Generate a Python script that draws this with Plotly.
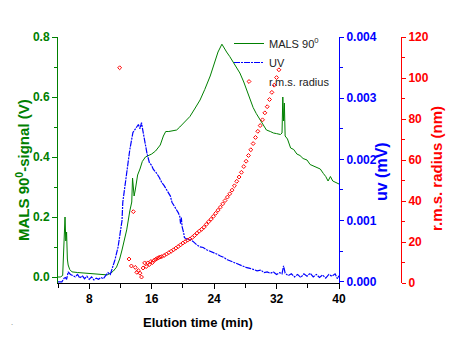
import plotly.graph_objects as go

# ---- data ----
mals_t = [4.0, 4.3, 4.6, 4.7, 4.8, 4.9, 5.0, 5.1, 5.2, 5.3, 5.5, 5.8, 6.5, 7.5, 8.5, 9.5, 10.3, 10.7,
          11.1, 11.5, 11.9, 12.2, 12.5, 12.8, 13.2, 13.45, 13.55, 13.65, 13.75, 13.9, 14.2, 14.5, 14.8,
          15.2, 15.6, 16.0, 16.5, 17.1, 17.5, 17.8, 18.2, 18.7, 19.2, 19.6, 20.2, 20.9, 21.5, 22.2,
          22.8, 23.5, 24.0, 24.5, 25.0, 25.3, 25.6, 26.0, 26.5, 27.0, 27.3, 27.8, 28.2, 28.6, 29.0,
          29.4, 29.9, 30.3, 30.7, 31.2, 31.6, 32.0, 32.5, 32.7, 32.8, 32.9, 33.0, 33.1, 33.4, 33.8,
          34.2, 34.6, 35.0, 35.4, 35.9, 36.3, 36.8, 37.2, 37.6, 38.0, 38.3, 38.6, 38.9, 39.2, 39.6, 40.0]
mals_v = [0.0, 0.0, 0.005, 0.08, 0.17, 0.2, 0.12, 0.15, 0.06, 0.04, 0.025, 0.017, 0.015, 0.013, 0.011,
          0.008, 0.007, 0.012, 0.02, 0.033, 0.06, 0.09, 0.12, 0.157, 0.22, 0.25, 0.33, 0.28, 0.27, 0.29,
          0.34, 0.36, 0.385, 0.40, 0.405, 0.41, 0.42, 0.44, 0.47, 0.485, 0.485, 0.487, 0.49, 0.50,
          0.515, 0.535, 0.56, 0.59, 0.625, 0.67, 0.71, 0.75, 0.776, 0.765, 0.75, 0.735, 0.715, 0.695,
          0.68, 0.65, 0.62, 0.59, 0.565, 0.545, 0.525, 0.505, 0.49, 0.485, 0.48, 0.478, 0.475, 0.48,
          0.60, 0.52, 0.58, 0.47, 0.46, 0.43, 0.425, 0.41, 0.405, 0.395, 0.39, 0.375, 0.37, 0.365,
          0.36, 0.345, 0.335, 0.32, 0.335, 0.32, 0.315, 0.31]

uv_t = [4.0, 4.5, 4.9, 5.1, 5.3, 5.6, 5.9, 6.2, 6.5, 6.8, 7.1, 7.4, 7.7, 8.0, 8.3, 8.6, 8.9, 9.2, 9.5,
        9.8, 10.1, 10.4, 10.7, 11.0, 11.3, 11.7, 12.0, 12.2, 12.3, 12.5, 12.8, 13.0, 13.2, 13.6, 13.9,
        14.1, 14.3, 14.5, 14.7, 14.9, 15.1, 15.4, 15.7, 16.0, 16.2, 16.6, 17.0, 17.3, 17.6, 18.0,
        18.4, 18.6, 19.0, 19.4, 19.6, 19.7, 19.8, 19.9, 20.1, 20.2, 20.5, 20.9, 21.3, 21.8, 22.2,
        22.6, 23.1, 23.5, 23.9, 24.4, 24.8, 25.2, 25.7, 26.1, 26.5, 27.0, 27.4, 27.7, 28.2, 28.6,
        29.0, 29.5, 30.0, 30.4, 30.8, 31.2, 31.6, 32.0, 32.4, 32.7, 32.9, 33.1, 33.5, 33.9, 34.3,
        34.7, 35.1, 35.5, 35.9, 36.3, 36.7, 37.1, 37.5, 37.9, 38.3, 38.7, 39.1, 39.5, 39.8, 40.0]
uv_v = [0.0, 0.0, 0.00008, 0.00004, 0.00016, 0.00012, 0.0001, 0.00008, 0.00012, 0.00006, 0.0001,
        0.00005, 0.00009, 0.00004, 0.00008, 0.00003, 0.00006, 0.00004, 0.00007, 0.00005, 0.0001,
        0.00015, 0.00012, 0.00024, 0.00036, 0.00057, 0.0008, 0.001, 0.0013, 0.0015, 0.00184, 0.002,
        0.00216, 0.00244, 0.0025, 0.00253, 0.00257, 0.0025, 0.0026, 0.00245, 0.0023, 0.0021, 0.00195,
        0.0019, 0.00184, 0.00178, 0.0017, 0.00162, 0.00157, 0.00148, 0.0014, 0.0013, 0.00122,
        0.00113, 0.00107, 0.00095, 0.00105, 0.0009, 0.0008, 0.00072, 0.0007, 0.00069, 0.00066,
        0.0006, 0.00057, 0.00056, 0.00052, 0.0005, 0.00048, 0.00045, 0.00042, 0.0004, 0.00036,
        0.00034, 0.00031, 0.00029, 0.00027, 0.00026, 0.00023, 0.00022, 0.0002, 0.00018, 0.00019,
        0.00015, 0.00016, 0.00014, 0.00016, 0.00012, 0.00015, 0.00013, 0.00026, 0.00014, 0.0001,
        0.00013, 0.00008, 0.00012, 0.00007, 0.00013, 0.00009, 0.00014, 0.00008, 0.00012, 0.00007,
        0.00011, 0.00006, 0.00012, 0.00009, 0.00013, 0.00005, 0.0001]

rms_t = [11.9, 13.1, 13.4, 13.65, 13.9, 14.1, 14.3, 14.5, 14.7, 14.9, 15.1, 15.3, 15.5, 15.7, 15.9,
         16.1, 16.3, 16.5, 16.7, 16.9, 17.1, 17.3, 17.6, 17.9, 18.2, 18.5, 18.8, 19.1, 19.4, 19.7,
         20.0, 20.3, 20.6, 20.9, 21.2, 21.5, 21.8, 22.1, 22.4, 22.7, 23.0, 23.3, 23.6, 23.9, 24.2,
         24.5, 24.8, 25.1, 25.4, 25.7, 26.0, 26.3, 26.6, 26.9, 27.2, 27.5, 27.8, 28.1, 28.4, 28.7,
         29.0, 29.3, 29.6, 29.9, 30.2, 30.5, 30.8, 31.1, 31.4, 31.7, 32.0, 32.3]
rms_r = [105, 11.7, 8.3, 34.8, 7.6, 5.2, 6.0, 4.8, 2.9, 7.3, 9.8, 8.0, 9.8, 9.0, 10.5, 10.0, 11.0,
         11.5, 12.0, 12.3, 12.7, 12.9, 13.4, 14.1, 14.8, 15.5, 16.2, 17.0, 17.8, 18.6, 19.5, 20.2,
         20.9, 21.5, 22.2, 23.2, 24.3, 25.3, 26.2, 27.2, 28.6, 29.9, 31.1, 32.5, 34.0, 35.5, 37.0,
         38.6, 40.2, 41.9, 43.5, 45.3, 47.4, 49.6, 51.7, 54.0, 56.8, 59.4, 62.2, 65.0, 68.0, 71.0,
         74.0, 76.8, 79.6, 83.0, 86.0, 89.5, 93.0, 96.5, 100.2, 104.0]

x_ticks = [8, 16, 24, 32, 40]
mals_ticks = [0.0, 0.2, 0.4, 0.6, 0.8]
uv_ticks = [0.0, 0.001, 0.002, 0.003, 0.004]
rms_ticks = [0, 20, 40, 60, 80, 100, 120]

GREEN = "#008000"
BLUE = "#0000FF"
RED = "#FF0000"
FONT = "Arial, Liberation Sans, sans-serif"

# layout geometry (figure pixels; page adds an 8px body margin)
L, T, PW, PH = 50, 29, 343, 246
W, H = 471, 360
OFF = 8


def px(xs):
    return (xs - OFF - L) / PW


def py(ys):
    return (T + PH - (ys - OFF)) / PH


fig = go.Figure()
fig.add_trace(go.Scatter(x=mals_t, y=mals_v, mode="lines", name="MALS 90<sup>0</sup>",
                         line=dict(color=GREEN, width=1), yaxis="y"))
fig.add_trace(go.Scatter(x=uv_t, y=uv_v, mode="lines", name="UV",
                         line=dict(color=BLUE, width=1.2, dash="6px,1px,2px,1px"), yaxis="y2"))
fig.add_trace(go.Scatter(x=rms_t, y=rms_r, mode="markers", name="r.m.s. radius",
                         marker=dict(symbol="diamond-open", size=3, color=RED, line=dict(width=1, color=RED)),
                         yaxis="y3"))


def tickfont_b(c):
    return dict(family=FONT, size=12, color=c, weight="bold")


fig.update_layout(
    width=W, height=H,
    margin=dict(l=L, r=W - L - PW, t=T, b=H - T - PH, autoexpand=False),
    paper_bgcolor="white", plot_bgcolor="white",
    showlegend=True,
    legend=dict(x=px(229), y=py(29), xanchor="left", yanchor="top", bgcolor="rgba(0,0,0,0)",
                font=dict(family=FONT, size=11, color="#222222"), tracegroupgap=0, itemwidth=30),
    xaxis=dict(domain=[0, (339 - 58) / PW], range=[4, 40], tickvals=x_ticks, ticks="outside", ticklen=5,
               tickcolor="black", showline=True, linecolor="black", linewidth=1, showgrid=False,
               zeroline=False, tickfont=tickfont_b("black"), automargin=False,
               minor=dict(dtick=4, tick0=0, ticks="outside", ticklen=4, tickcolor="black")),
    yaxis=dict(range=[-0.02, 0.8], tickvals=mals_ticks, tickformat=".1f", ticks="outside", ticklen=5,
               tickcolor=GREEN, showline=True, linecolor=GREEN, linewidth=1, showgrid=False,
               zeroline=False, tickfont=tickfont_b(GREEN), automargin=False,
               minor=dict(dtick=0.1, tick0=0, ticks="outside", ticklen=3, tickcolor=GREEN)),
    yaxis2=dict(overlaying="y", side="right", anchor="x", range=[-0.00002, 0.004], tickvals=uv_ticks,
                tickformat=".3f", ticks="outside", ticklen=4, tickcolor=BLUE, showline=True,
                linecolor=BLUE, linewidth=1, showgrid=False, zeroline=False, tickfont=tickfont_b(BLUE),
                automargin=False,
                minor=dict(dtick=0.0005, tick0=0, ticks="outside", ticklen=3, tickcolor=BLUE)),
    yaxis3=dict(overlaying="y", side="right", anchor="free", position=1.0, range=[0, 120],
                tickvals=rms_ticks, ticks="outside", ticklen=4, tickcolor=RED, showline=True,
                linecolor=RED, linewidth=1, showgrid=False, zeroline=False, tickfont=tickfont_b(RED),
                automargin=False,
                minor=dict(dtick=10, tick0=0, ticks="outside", ticklen=3, tickcolor=RED)),
)

titles = [
    ("MALS 90<sup>0</sup>-signal (V)", 22, 170, -90, 15, GREEN),
    ("uv (mV)", 381, 172, -90, 16, BLUE),
    ("r.m.s. radius (nm)", 436, 168, -90, 15, RED),
    ("Elution time (min)", 198, 322, 0, 13, "black"),
]
for text, xs, ys, ang, size, col in titles:
    fig.add_annotation(xref="paper", yref="paper", x=px(xs), y=py(ys), text=text, textangle=ang,
                       showarrow=False, xanchor="center", yanchor="middle",
                       font=dict(family=FONT, size=size, color=col, weight="bold"))

fig.add_annotation(xref="paper", yref="paper", x=px(9), y=py(329), text=".",
                   showarrow=False, font=dict(size=8, color="#888888"))

fig.write_html("out.html")
